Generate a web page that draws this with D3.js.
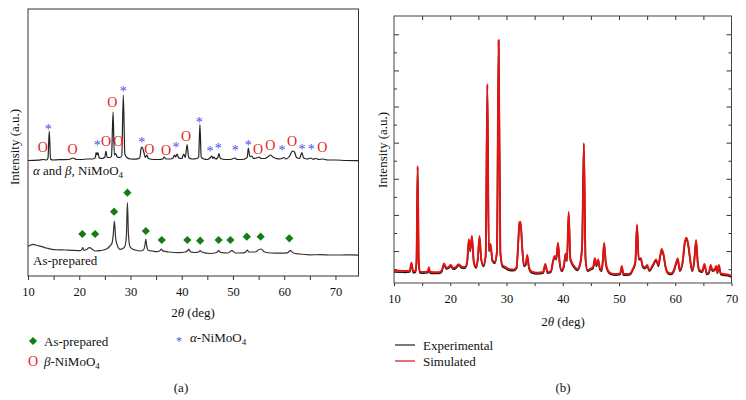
<!DOCTYPE html>
<html><head><meta charset="utf-8">
<script src="https://cdn.jsdelivr.net/npm/d3@7"></script>
<style>
body{margin:0;background:#fff}
svg{display:block}
text{font-family:"Liberation Serif","Times New Roman",serif;fill:#111}
</style>
</head><body>
<svg id="c" width="746" height="400"></svg>
<script>
// ---------------- DATA ----------------
// Panel (a): XRD patterns, [2theta, intensity (a.u.)]
const mixedPattern = [[10,115.5],[12,115.8],[13.0,116.5],[13.6,116],[13.9,118],[14.15,145],[14.4,117],[14.8,116],[16,116.3],[18,116.5],[18.8,118],[19.5,116.5],[20.5,116.5],[21.5,117],[22.5,117],[23.1,118],[23.3,123.5],[23.45,121],[23.65,123.5],[23.9,118],[24.5,117.5],[25.0,119],[25.2,125],[25.45,118.5],[26.0,118.5],[26.3,120],[26.6,164],[26.85,121],[27.1,122.5],[27.4,119],[27.9,118.5],[28.3,120],[28.6,181],[28.9,122],[29.3,118.5],[30,117],[31,116.8],[31.8,118],[32.1,128],[32.3,129],[32.6,124],[32.9,118.5],[33.2,121],[33.5,117.5],[34.5,116.5],[35.5,116.5],[36.3,117],[36.6,119],[36.9,117],[37.8,117],[38.3,118],[38.6,121],[38.8,119],[39.1,122],[39.4,118],[40.0,117.5],[40.4,122],[40.7,118.5],[41.05,131.5],[41.35,118.5],[42,117],[43,117.5],[43.3,119],[43.55,151.5],[43.8,119],[44.3,117],[45.0,116.5],[45.6,118.5],[45.9,120],[46.1,117.5],[46.3,119],[46.6,117],[47.0,118],[47.25,122.5],[47.55,117.5],[48.5,116.5],[49.5,116.5],[50.4,118],[50.8,116.5],[51.8,116.5],[52.5,117.5],[52.8,119],[53.0,128],[53.3,119.5],[53.7,120],[54.0,117.5],[54.6,118],[55.1,119],[55.5,117.5],[56.2,117.5],[56.8,119],[57.3,121],[57.8,119],[58.4,117.5],[59.2,117],[60.0,118.5],[60.3,117],[61.0,119.5],[61.6,125],[62.0,124],[62.4,118.5],[63.0,117.5],[63.45,123.5],[63.8,118],[64.5,117],[65.2,118],[65.6,116.8],[66.2,117.5],[66.8,116.5],[67.5,117],[68.5,116],[70,116],[72,115.5],[74.5,115.3]];

const asPreparedPattern = [[10,29.5],[10.5,31],[11,31.7],[11.8,30.5],[12.7,29.3],[13.6,28],[14.6,26.7],[16,26.2],[17.2,26],[18.5,25.7],[20.2,25.3],[20.5,26.5],[20.7,28.3],[20.95,25.5],[21.4,26.5],[22.0,28.3],[22.6,26.5],[23.1,25],[24,25.3],[24.7,26],[25.5,27.5],[26.0,30],[26.4,33],[26.65,42],[26.86,55],[27.1,38],[27.4,31],[27.97,26.7],[28.5,27.5],[28.9,29.5],[29.2,40],[29.4,73.3],[29.6,42],[29.9,29.3],[30.4,27],[30.9,26],[31.9,25],[32.5,26],[32.8,30],[33.0,36.7],[33.2,29],[33.5,25.5],[34.3,25],[35.1,24.3],[35.7,25],[36.0,27],[36.4,24.8],[37.5,24],[39.4,23.3],[40.7,24],[41.2,25.5],[41.4,27],[41.7,24],[42.6,23.5],[43.3,24],[43.6,25.3],[43.9,24],[45.5,22.5],[46.8,23.5],[47.2,25.3],[47.6,23.5],[49.0,23],[49.8,25.3],[50.5,23],[52.0,23.2],[52.5,24],[52.8,26],[53.1,24],[54.3,24],[55.1,26.5],[55.5,27],[56.2,24],[57.5,23],[59,22.8],[60.6,23.2],[61.2,25.3],[61.8,23],[63,22],[65,21.2],[67,21.3],[69,21],[71,21],[73,21.2],[74.5,20.8]];

// Phase markers [2theta, height]
const betaMarkers = [[12.87,128.7],[18.72,126.7],[25.22,134.3],[27.62,134.3],[26.45,173.3],[33.67,127],[36.93,125.3],[40.84,139.3],[54.89,126.7],[57.29,130.3],[61.52,134.3],[67.43,128.3]];
const alphaMarkers = [[13.96,149.3],[23.52,133.3],[28.6,187.7],[32.19,136.7],[38.88,131.7],[43.43,157],[45.52,127.7],[47.14,130.3],[50.46,128.3],[52.99,133.3],[59.57,128.3],[63.47,130],[65.3,130]];
const asPreparedMarkers = [[20.6,42],[23.1,42],[26.8,64.3],[29.4,83.3],[33.0,45],[36.1,36],[41.1,36],[43.6,35.3],[47.2,36],[49.5,36],[52.7,39.3],[55.4,39.3],[61.0,37.7]];

// Panel (b): experimental vs simulated
const thetaB = [10.0,11.0,12.0,12.8,13.1,13.4,13.8,14.0,14.2,14.4,
14.6,15.3,16.0,16.2,16.4,17.0,18.0,18.5,18.9,19.3,
19.7,20.1,20.5,21.0,21.5,22.0,22.6,23.0,23.3,23.55,
23.85,24.2,24.6,24.9,25.2,25.5,25.9,26.3,26.6,26.85,
27.15,27.5,27.9,28.3,28.6,28.9,29.3,29.7,30.5,31.3,
31.8,32.1,32.3,32.5,32.8,33.1,33.4,33.7,34.0,34.5,
35.5,36.5,36.9,37.3,37.9,38.3,38.6,38.85,39.15,39.45,
39.8,40.2,40.5,40.75,41.05,41.35,41.7,42.1,42.6,43.1,
43.45,43.75,44.05,44.4,45.0,45.4,45.7,46.0,46.3,46.6,
46.9,47.1,47.35,47.65,48.0,48.6,49.4,50.2,50.5,50.8,
51.5,52.0,52.5,52.9,53.2,53.5,53.9,54.2,54.6,55.0,
55.4,56.0,56.6,57.0,57.35,57.6,57.95,58.3,58.8,59.3,
59.8,60.2,60.45,60.8,61.3,61.7,62.0,62.3,62.6,63.0,
63.35,63.7,64.0,64.3,64.8,65.2,65.6,66.0,66.3,66.6,
67.0,67.3,67.5,67.75,68.1,68.6,69.3,70.0];
const simulated = [460,455,450,455,680,440,450,700,3355,700,
430,425,440,550,430,415,415,470,660,540,
560,615,530,560,635,570,560,700,1325,1030,
1417,700,568,800,1417,800,614,900,5625,1030,
1196,752,700,1000,6842,1000,600,568,500,490,
560,1300,1800,1814,1100,614,640,891,560,430,
400,420,642,420,450,752,863,800,1232,700,
476,600,937,752,2091,800,661,568,500,661,
1200,3991,800,476,522,560,799,614,771,520,
476,700,1232,700,476,383,365,383,587,365,
365,383,522,700,1740,800,799,600,550,614,
476,614,771,614,900,1057,891,560,400,383,
494,700,799,476,700,1250,1371,1200,845,476,
700,1306,700,476,450,642,383,420,614,476,
500,587,420,614,383,365,350,310];
const experimental = [420,415,410,420,650,400,410,660,3320,660,
395,390,400,510,395,380,380,430,620,505,
520,580,495,525,600,535,525,660,1290,990,
1380,660,530,760,1380,760,575,860,5590,990,
1160,715,660,960,6810,960,560,530,465,455,
520,1260,1760,1780,1060,575,600,850,520,395,
365,385,605,385,415,715,825,760,1195,660,
440,560,900,715,2050,760,620,530,465,625,
1160,3950,760,440,485,520,760,575,735,485,
440,660,1195,660,440,350,330,350,550,330,
330,350,485,660,1700,760,760,560,515,575,
440,575,735,575,860,1020,850,520,365,350,
455,660,760,440,660,1210,1330,1160,805,440,
660,1270,660,440,415,605,350,385,575,440,
465,550,385,575,350,330,315,280];

const xTicksA = [10,20,30,40,50,60,70];
const xMinorA = [15,25,35,45,55,65];
const xTicksB = [10,20,30,40,50,60,70];
const xMinorB = [15,25,35,45,55,65];
const yMajorB = [1000,2000,3000,4000,5000,6000,7000];
const yMinorB = [500,1500,2500,3500,4500,5500,6500];

// ---------------- DRAW ----------------
const svg = d3.select("#c");
const FS = 12.5;
const RED = "#e3231c", BLUE = "#4b4bf0", GREEN = "#157d15";

function addNiMoO4(t, prefix){
  if(prefix) t.append("tspan").text(prefix);
  t.append("tspan").text("NiMoO");
  t.append("tspan").attr("font-size", 9).attr("dy", 3).text("4");
}
function styleAxis(g){
  g.select(".domain").remove();
  g.selectAll(".tick line").attr("stroke","#333");
  g.selectAll(".tick text").attr("font-size",FS).attr("font-family",'"Liberation Serif","Times New Roman",serif').attr("fill","#111");
}

// ===== Panel (a) =====
const xA = d3.scaleLinear().domain([10,74.5]).range([28,358.5]);
const yA = d3.scaleLinear().domain([0,267]).range([276,9]);
const gA = svg.append("g");

gA.append("g").attr("transform",`translate(0,${yA(0)})`)
  .call(d3.axisBottom(xA).tickValues(xTicksA).tickSize(4).tickPadding(7).tickFormat(d3.format("d")))
  .call(styleAxis);
gA.append("g").attr("transform",`translate(0,${yA(0)})`)
  .call(d3.axisBottom(xA).tickValues(xMinorA).tickSize(4).tickFormat(""))
  .call(styleAxis);

gA.append("rect").attr("x",xA.range()[0]).attr("y",yA.range()[1])
  .attr("width",xA.range()[1]-xA.range()[0]).attr("height",yA.range()[0]-yA.range()[1])
  .attr("fill","none").attr("stroke","#333").attr("stroke-width",1);

const lineA = d3.line().x(d=>xA(d[0])).y(d=>yA(d[1])).curve(d3.curveMonotoneX);
gA.append("path").datum(mixedPattern).attr("d",lineA).attr("fill","none").attr("stroke","#222").attr("stroke-width",1.2);
gA.append("path").datum(asPreparedPattern).attr("d",lineA).attr("fill","none").attr("stroke","#333").attr("stroke-width",1.2);

gA.selectAll("text.beta").data(betaMarkers).join("text").attr("class","beta")
  .attr("x",d=>xA(d[0])).attr("y",d=>yA(d[1])).attr("dy","0.33em")
  .attr("text-anchor","middle").attr("font-size",14).style("fill",RED).text("O");
gA.selectAll("text.alpha").data(alphaMarkers).join("text").attr("class","alpha")
  .attr("x",d=>xA(d[0])).attr("y",d=>yA(d[1])).attr("dy","0.55em")
  .attr("text-anchor","middle").attr("font-size",14).style("fill",BLUE).text("*");
gA.selectAll("path.dia").data(asPreparedMarkers).join("path").attr("class","dia")
  .attr("d",d3.symbol(d3.symbolSquare,34)())
  .attr("transform",d=>`translate(${xA(d[0])},${yA(d[1])}) rotate(45)`)
  .attr("fill",GREEN);

// curve labels
{
  const t = gA.append("text").attr("x",33).attr("y",175).attr("font-size",13);
  t.append("tspan").attr("font-style","italic").text("α");
  t.append("tspan").text(" and ");
  t.append("tspan").attr("font-style","italic").text("β");
  t.append("tspan").text(", ");
  addNiMoO4(t);
}
gA.append("text").attr("x",33).attr("y",264.5).attr("font-size",13).text("As-prepared");

// axis titles
function thetaTitle(g, x, y){
  const t = g.append("text").attr("x",x).attr("y",y).attr("text-anchor","middle").attr("font-size",13);
  t.append("tspan").text("2");
  t.append("tspan").attr("font-style","italic").text("θ");
  t.append("tspan").text(" (deg)");
}
thetaTitle(gA, 193, 317);
gA.append("text").attr("transform","translate(19,147) rotate(-90)").attr("text-anchor","middle").attr("font-size",13).text("Intensity (a.u.)");

// legend (a)
gA.append("path").attr("d",d3.symbol(d3.symbolSquare,34)()).attr("transform","translate(33,341) rotate(45)").attr("fill",GREEN);
gA.append("text").attr("x",44).attr("y",345.5).attr("font-size",13).text("As-prepared");
gA.append("text").attr("x",33).attr("y",361).attr("dy","0.33em").attr("text-anchor","middle").attr("font-size",14).style("fill",RED).text("O");
{
  const t = gA.append("text").attr("x",44).attr("y",365.5).attr("font-size",13);
  t.append("tspan").attr("font-style","italic").text("β");
  t.append("tspan").text("-");
  addNiMoO4(t);
}
gA.append("text").attr("x",179).attr("y",338).attr("dy","0.55em").attr("text-anchor","middle").attr("font-size",12).style("fill",BLUE).text("*");
{
  const t = gA.append("text").attr("x",190).attr("y",342).attr("font-size",13);
  t.append("tspan").attr("font-style","italic").text("α");
  t.append("tspan").text("-");
  addNiMoO4(t);
}
gA.append("text").attr("x",181).attr("y",391.5).attr("text-anchor","middle").attr("font-size",13).text("(a)");

// ===== Panel (b) =====
const xB = d3.scaleLinear().domain([10,70]).range([394,731.5]);
const yB = d3.scaleLinear().domain([116,7506]).range([283,16]);
const gB = svg.append("g");
const [bx0,bx1] = xB.range(); const [by0,by1] = yB.range();

gB.append("g").attr("transform",`translate(0,${by0})`)
  .call(d3.axisBottom(xB).tickValues(xTicksB).tickSize(3).tickPadding(8).tickFormat(d3.format("d")))
  .call(styleAxis);
gB.append("g").attr("transform",`translate(0,${by0})`)
  .call(d3.axisBottom(xB).tickValues(xMinorB).tickSize(3).tickFormat("")).call(styleAxis);
gB.append("g").attr("transform",`translate(0,${by1})`)
  .call(d3.axisTop(xB).tickValues(xMinorB.concat(xTicksB.slice(1,-1))).tickSize(-4).tickFormat("")).call(styleAxis);
gB.append("g").attr("transform",`translate(${bx0},0)`)
  .call(d3.axisLeft(yB).tickValues(yMajorB).tickSize(-5).tickFormat("")).call(styleAxis);
gB.append("g").attr("transform",`translate(${bx0},0)`)
  .call(d3.axisLeft(yB).tickValues(yMinorB).tickSize(-3).tickFormat("")).call(styleAxis);
gB.append("g").attr("transform",`translate(${bx1},0)`)
  .call(d3.axisRight(yB).tickValues(yMajorB).tickSize(-5).tickFormat("")).call(styleAxis);
gB.append("g").attr("transform",`translate(${bx1},0)`)
  .call(d3.axisRight(yB).tickValues(yMinorB).tickSize(-3).tickFormat("")).call(styleAxis);

gB.append("rect").attr("x",bx0).attr("y",by1).attr("width",bx1-bx0).attr("height",by0-by1)
  .attr("fill","none").attr("stroke","#444").attr("stroke-width",1);

const expData = d3.zip(thetaB, experimental);
const simData = d3.zip(thetaB, simulated);
const lineB = d3.line().x(d=>xB(d[0])).y(d=>yB(d[1])).curve(d3.curveMonotoneX);
gB.append("path").datum(expData).attr("d",lineB).attr("fill","none").attr("stroke","#1a1a1a").attr("stroke-width",1.6);
gB.append("path").datum(simData).attr("d",lineB).attr("fill","none").attr("stroke","#e51212").attr("stroke-width",1.9);

thetaTitle(gB, 563, 326);
gB.append("text").attr("transform","translate(387,150) rotate(-90)").attr("text-anchor","middle").attr("font-size",13).text("Intensity (a.u.)");

// legend (b)
gB.append("line").attr("x1",395).attr("x2",415).attr("y1",345).attr("y2",345).attr("stroke","#222").attr("stroke-width",1.2);
gB.append("text").attr("x",423).attr("y",349.5).attr("font-size",13).text("Experimental");
gB.append("line").attr("x1",395).attr("x2",415).attr("y1",361).attr("y2",361).attr("stroke","#e01010").attr("stroke-width",1.2);
gB.append("text").attr("x",423).attr("y",365.5).attr("font-size",13).text("Simulated");
gB.append("text").attr("x",563).attr("y",391.5).attr("text-anchor","middle").attr("font-size",13).text("(b)");
</script>
</body></html>
